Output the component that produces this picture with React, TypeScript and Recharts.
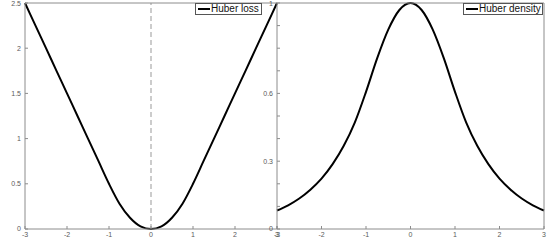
import { LineChart, Line, XAxis, YAxis, ReferenceLine } from 'recharts';

const xValues = [
  -3, -2.75, -2.5, -2.25, -2, -1.75, -1.5, -1.25, -1, -0.75, -0.5, -0.25, 0,
  0.25, 0.5, 0.75, 1, 1.25, 1.5, 1.75, 2, 2.25, 2.5, 2.75, 3,
];
const lossValues = [
  2.5, 2.25, 2, 1.75, 1.5, 1.25, 1, 0.75, 0.5, 0.28, 0.125, 0.03, 0,
  0.03, 0.125, 0.28, 0.5, 0.75, 1, 1.25, 1.5, 1.75, 2, 2.25, 2.5,
];
const densityValues = [
  0.082, 0.105, 0.135, 0.174, 0.223, 0.287, 0.368, 0.472, 0.607, 0.755, 0.882, 0.969, 1,
  0.969, 0.882, 0.755, 0.607, 0.472, 0.368, 0.287, 0.223, 0.174, 0.135, 0.105, 0.082,
];
const xTicks = [-3, -2, -1, 0, 1, 2, 3];
const lossTicks = [0, 0.5, 1, 1.5, 2, 2.5];
const densityTicks = [0, 0.1, 0.2, 0.3, 0.4, 0.5, 0.6, 0.7, 0.8, 0.9, 1];
const densityLabels = [0, 0.3, 0.6, 1];

const lossData = xValues.map((x, i) => ({ x, loss: lossValues[i] }));
const densityData = xValues.map((x, i) => ({ x, density: densityValues[i] }));

const font = 'Liberation Sans, Arial, sans-serif';
const tickStyle = { fontSize: 7, fill: '#5a5a5a', fontFamily: font };
const axisColor = '#8c8c8c';

function LegendBox({ left, width, label }: { left: number; width: number; label: string }) {
  return (
    <div
      style={{
        position: 'absolute',
        left,
        top: 3,
        width,
        height: 12,
        border: '1px solid #555',
        background: '#fff',
        display: 'flex',
        alignItems: 'center',
        fontFamily: font,
        fontSize: 10,
        lineHeight: '12px',
        color: '#111',
        boxSizing: 'border-box',
        whiteSpace: 'nowrap',
      }}
    >
      <span style={{ display: 'inline-block', width: 12, height: 2, background: '#000', marginLeft: 2, marginRight: 1 }} />
      {label}
    </div>
  );
}

export default function App() {
  return (
    <div style={{ position: 'absolute', left: 0, top: 0, width: 560, height: 244, background: '#fff' }}>
      <div style={{ position: 'absolute', left: 0, top: 0 }}>
        <LineChart width={280} height={244} data={lossData} margin={{ top: 2, right: 3, bottom: 0, left: 0 }}>
          <XAxis
            dataKey="x"
            type="number"
            domain={[-3, 3]}
            ticks={xTicks}
            height={15}
            stroke={axisColor}
            tickSize={-3}
            tickMargin={6}
            tick={tickStyle}
          />
          <XAxis
            xAxisId="top"
            dataKey="x"
            type="number"
            orientation="top"
            domain={[-3, 3]}
            ticks={xTicks}
            height={1}
            stroke={axisColor}
            tickSize={-3}
            tick={false}
          />
          <YAxis
            type="number"
            domain={[0, 2.5]}
            ticks={lossTicks}
            width={25}
            stroke={axisColor}
            tickSize={-3}
            tickMargin={7}
            tick={tickStyle}
          />
          <ReferenceLine x={0} stroke="#999" strokeDasharray="5 3" />
          <Line dataKey="loss" type="monotone" stroke="#000" strokeWidth={2} dot={false} isAnimationActive={false} />
        </LineChart>
      </div>
      <div style={{ position: 'absolute', left: 252, top: 0 }}>
        <LineChart width={308} height={244} data={densityData} margin={{ top: 2, right: 15, bottom: 0, left: 0 }}>
          <XAxis
            dataKey="x"
            type="number"
            domain={[-3, 3]}
            ticks={xTicks}
            height={15}
            stroke={axisColor}
            tickSize={-3}
            tickMargin={6}
            tick={tickStyle}
          />
          <XAxis
            xAxisId="top"
            dataKey="x"
            type="number"
            orientation="top"
            domain={[-3, 3]}
            ticks={xTicks}
            height={1}
            stroke={axisColor}
            tickSize={-3}
            tick={false}
          />
          <YAxis
            type="number"
            domain={[0, 1]}
            ticks={densityTicks}
            width={25}
            stroke={axisColor}
            tickSize={-3}
            tickMargin={7}
            tick={tickStyle}
            tickFormatter={(v: number) => (densityLabels.includes(v) ? String(v) : '')}
          />
          <YAxis
            yAxisId="right"
            orientation="right"
            type="number"
            domain={[0, 1]}
            ticks={densityTicks}
            width={1}
            stroke={axisColor}
            tickSize={-3}
            tick={false}
          />
          <Line dataKey="density" type="monotone" stroke="#000" strokeWidth={2} dot={false} isAnimationActive={false} />
        </LineChart>
      </div>
      <LegendBox left={195} width={67} label="Huber loss" />
      <LegendBox left={463} width={80} label="Huber density" />
    </div>
  );
}
